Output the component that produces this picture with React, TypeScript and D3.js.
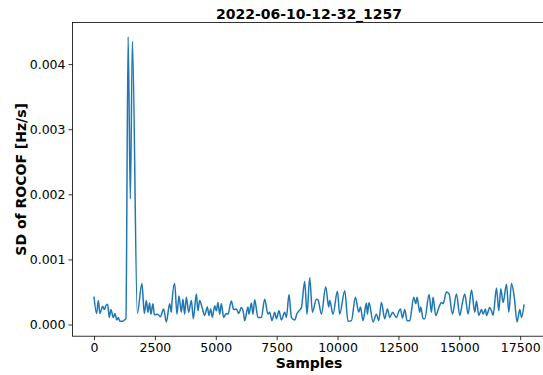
import React, { useRef, useEffect } from "react";
import * as d3 from "d3";

// sample index and SD of ROCOF (Hz/s)
const samples = [
  0, 107, 177, 242, 353, 423, 489, 559, 629, 694, 793, 859, 941, 998, 1064, 1175, 1245, 1310,
  1401, 1491, 1577, 1779, 1968, 2066, 2148, 2214, 2284, 2337, 2420, 2477, 2613, 2724, 2859, 2970,
  3106, 3176, 3200, 3311, 3406, 3488, 3586, 3652, 3722, 3792, 3886, 3997, 4079, 4203, 4268, 4338,
  4432, 4543, 4654, 4720, 4790, 4860, 4954, 5024, 5090, 5160, 5229, 5324, 5435, 5501, 5640, 5735,
  5846, 5940, 6051, 6146, 6187, 6322, 6363, 6462, 6528, 6597, 6733, 6873, 7008, 7144, 7214, 7308,
  7419, 7489, 7596, 7694, 7830, 7900, 8007, 8105, 8241, 8335, 8417, 8516, 8651, 8746, 8857, 8968,
  9132, 9198, 9338, 9514, 9638, 9679, 9814, 9995, 10089, 10295, 10430, 10570, 10734, 10870, 10940,
  11046, 11186, 11227, 11293, 11457, 11597, 11691, 11802, 11938, 12049, 12143, 12266, 12349, 12419,
  12525, 12583, 12665, 12760, 12854, 12965, 13129, 13212, 13265, 13376, 13417, 13512, 13581, 13758,
  13856, 13922, 14033, 14168, 14267, 14333, 14473, 14579, 14719, 14883, 15019, 15130, 15224, 15360,
  15500, 15635, 15705, 15800, 15911, 15976, 16075, 16116, 16251, 16321, 16387, 16527, 16621, 16703,
  16798, 16937, 17032, 17143, 17250, 17373, 17484, 17554, 17660,
];

// values in units of 1e-3 Hz/s
const sdRocof = [
  0.43, 0.17, 0.37, 0.17, 0.28, 0.23, 0.29, 0.31, 0.11, 0.23, 0.11, 0.17, 0.07, 0.11, 0.05, 0.05, 0.07, 0.09,
  4.42, 1.93, 4.35, 0.17, 0.63, 0.17, 0.37, 0.19, 0.33, 0.16, 0.32, 0.15, 0.16, 0.12, 0.24, 0.04,
  0.32, 0.19, 0.33, 0.63, 0.16, 0.44, 0.19, 0.39, 0.16, 0.42, 0.19, 0.37, 0.09, 0.47, 0.21, 0.37,
  0.27, 0.14, 0.27, 0.14, 0.24, 0.11, 0.29, 0.21, 0.34, 0.16, 0.32, 0.11, 0.17, 0.16, 0.36, 0.23,
  0.24, 0.17, 0.26, 0.16, 0.06, 0.27, 0.16, 0.33, 0.16, 0.38, 0.11, 0.11, 0.39, 0.16, 0.19, 0.06,
  0.19, 0.09, 0.21, 0.07, 0.19, 0.11, 0.46, 0.11, 0.07, 0.17, 0.21, 0.26, 0.66, 0.16, 0.72, 0.19,
  0.39, 0.38, 0.16, 0.58, 0.27, 0.37, 0.16, 0.51, 0.16, 0.52, 0.05, 0.06, 0.42, 0.19, 0.27,
  0.06, 0.33, 0.16, 0.34, 0.04, 0.16, 0.06, 0.34, 0.09, 0.24, 0.11, 0.19, 0.14, 0.11,
  0.21, 0.24, 0.10, 0.23, 0.06, 0.06, 0.42, 0.32, 0.42, 0.19, 0.27, 0.09, 0.09, 0.46,
  0.19, 0.42, 0.14, 0.27, 0.34, 0.32, 0.50, 0.47, 0.16, 0.47, 0.14, 0.34, 0.47, 0.16,
  0.53, 0.19, 0.36, 0.14, 0.23, 0.16, 0.24, 0.14, 0.26, 0.21, 0.14, 0.56, 0.21, 0.55,
  0.34, 0.62, 0.19, 0.63, 0.44, 0.04, 0.23, 0.11, 0.31,
];

const xTicks = [0, 2500, 5000, 7500, 10000, 12500, 15000, 17500];
const yTicks = [0, 0.001, 0.002, 0.003, 0.004];

const chartTitle = "2022-06-10-12-32_1257";
const xLabel = "Samples";
const yLabel = "SD of ROCOF [Hz/s]";

function App() {
  const svgRef = useRef<SVGSVGElement>(null);

  useEffect(() => {
    const svg = d3.select(svgRef.current);
    svg.selectAll("*").remove();

    const data = samples.map((s, i) => ({ x: s, y: sdRocof[i] / 1000 }));

    const left = 72.5;
    const right = 545.6;
    const top = 22.5;
    const bottom = 336.2;

    // matplotlib-like 5% margins
    const [x0, x1] = d3.extent(data, (d) => d.x) as [number, number];
    const [y0, y1] = d3.extent(data, (d) => d.y) as [number, number];
    const xm = (x1 - x0) * 0.05;
    const ym = (y1 - y0) * 0.05;

    const xScale = d3.scaleLinear().domain([x0 - xm, x1 + xm]).range([left, right]);
    const yScale = d3.scaleLinear().domain([y0 - ym, y1 + ym]).range([bottom, top]);

    const font = "DejaVu Sans, sans-serif";

    // x axis
    const xAxis = svg
      .append("g")
      .attr("transform", `translate(0, ${bottom})`)
      .call(
        d3.axisBottom(xScale).tickValues(xTicks).tickFormat(d3.format("d")).tickSizeOuter(0).tickSize(4).tickPadding(3)
      );
    xAxis.select(".domain").remove();
    xAxis.selectAll("line").attr("stroke", "#000").attr("stroke-width", 0.8);
    xAxis.selectAll("text").attr("font-family", font).attr("font-size", 12.5).attr("fill", "#000");

    // y axis
    const yAxis = svg
      .append("g")
      .attr("transform", `translate(${left}, 0)`)
      .call(
        d3.axisLeft(yScale).tickValues(yTicks).tickFormat(d3.format(".3f")).tickSizeOuter(0).tickSize(4).tickPadding(3)
      );
    yAxis.select(".domain").remove();
    yAxis.selectAll("line").attr("stroke", "#000").attr("stroke-width", 0.8);
    yAxis.selectAll("text").attr("font-family", font).attr("font-size", 12.5).attr("fill", "#000");

    // line
    const line = d3
      .line<{ x: number; y: number }>()
      .x((d) => xScale(d.x))
      .y((d) => yScale(d.y))
      .curve(d3.curveMonotoneX);

    svg
      .append("path")
      .datum(data)
      .attr("d", line)
      .attr("fill", "none")
      .attr("stroke", "#1f77b4")
      .attr("stroke-width", 1.5)
      .attr("stroke-linejoin", "round");

    // spines
    svg
      .append("rect")
      .attr("x", left)
      .attr("y", top)
      .attr("width", right - left)
      .attr("height", bottom - top)
      .attr("fill", "none")
      .attr("stroke", "#000")
      .attr("stroke-width", 0.8);

    const cx = (left + right) / 2;

    svg
      .append("text")
      .attr("x", cx)
      .attr("y", 19)
      .attr("text-anchor", "middle")
      .attr("font-family", font)
      .attr("font-weight", "bold")
      .attr("font-size", 14)
      .text(chartTitle);

    svg
      .append("text")
      .attr("x", cx)
      .attr("y", 368)
      .attr("text-anchor", "middle")
      .attr("font-family", font)
      .attr("font-weight", "bold")
      .attr("font-size", 14)
      .text(xLabel);

    svg
      .append("text")
      .attr("transform", `translate(26, ${(top + bottom) / 2}) rotate(-90)`)
      .attr("text-anchor", "middle")
      .attr("font-family", font)
      .attr("font-weight", "bold")
      .attr("font-size", 14)
      .text(yLabel);
  }, []);

  return (
    <svg
      ref={svgRef}
      width={543}
      height={375}
      style={{ position: "absolute", left: 0, top: 0, background: "#fff" }}
    />
  );
}

export default App;
